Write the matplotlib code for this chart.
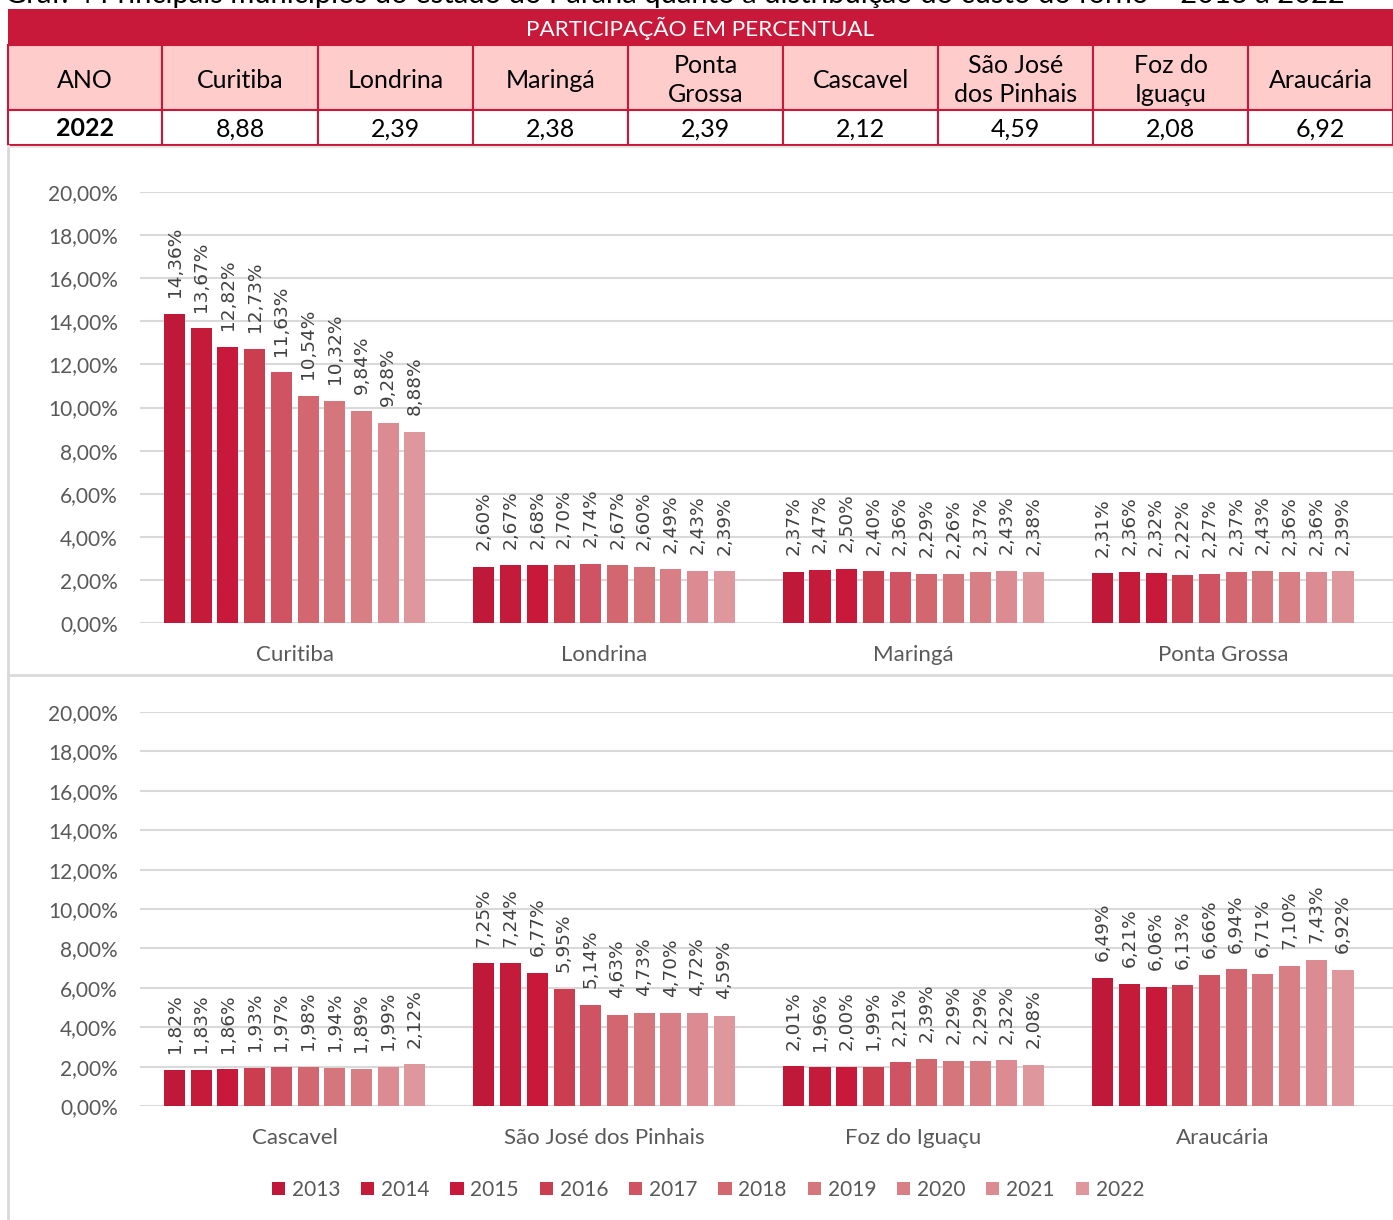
import matplotlib
matplotlib.use("Agg")
import matplotlib.pyplot as plt
import numpy as np
from matplotlib.patches import Rectangle

# ── data ────────────────────────────────────────────────────────────────────
years = ["2013", "2014", "2015", "2016", "2017", "2018", "2019", "2020", "2021", "2022"]

cities_top = ["Curitiba", "Londrina", "Maringá", "Ponta Grossa"]
cities_bottom = ["Cascavel", "São José dos Pinhais", "Foz do Iguaçu", "Araucária"]

curitiba = [14.36, 13.67, 12.82, 12.73, 11.63, 10.54, 10.32, 9.84, 9.28, 8.88]
londrina = [2.60, 2.67, 2.68, 2.70, 2.74, 2.67, 2.60, 2.49, 2.43, 2.39]
maringa = [2.37, 2.47, 2.50, 2.40, 2.36, 2.29, 2.26, 2.37, 2.43, 2.38]
ponta_grossa = [2.31, 2.36, 2.32, 2.22, 2.27, 2.37, 2.43, 2.36, 2.36, 2.39]
cascavel = [1.82, 1.83, 1.86, 1.93, 1.97, 1.98, 1.94, 1.89, 1.99, 2.12]
sao_jose = [7.25, 7.24, 6.77, 5.95, 5.14, 4.63, 4.73, 4.70, 4.72, 4.59]
foz = [2.01, 1.96, 2.00, 1.99, 2.21, 2.39, 2.29, 2.29, 2.32, 2.08]
araucaria = [6.49, 6.21, 6.06, 6.13, 6.66, 6.94, 6.71, 7.10, 7.43, 6.92]

table_headers = ["ANO", "Curitiba", "Londrina", "Maringá", "Ponta\nGrossa", "Cascavel",
                 "São José\ndos Pinhais", "Foz do\nIguaçu", "Araucária"]
table_row = ["2022", "8,88", "2,39", "2,38", "2,39", "2,12", "4,59", "2,08", "6,92"]

title = ("Gráf. 4 Principais municípios do estado do Paraná quanto à distribuição "
         "do custo do forno – 2013 a 2022")

# ── style ───────────────────────────────────────────────────────────────────
COLORS = ["#C01838", "#C41B3B", "#C8193A", "#CB3E4F", "#CF5362",
          "#D2676F", "#D5757C", "#D87F86", "#DB8B91", "#DE979C"]
CRIMSON = "#C8193A"
PINK = "#FFCCCC"
GRID = "#D9D9D9"
TXT = "#595959"
LBL = "#404040"
FONT = "Lato"

W, H = 1393, 1220
fig = plt.figure(figsize=(W / 100, H / 100), dpi=100)

# overlay axes in pixel coords for the table and frame lines
bg = fig.add_axes([0, 0, 1, 1])
bg.set_xlim(0, W)
bg.set_ylim(H, 0)
bg.axis("off")

# title row is cropped at the top edge in the source image
fig.text(5 / W, 1 - 3 / H, title, fontsize=21, family=FONT, color="#000000",
         va="baseline", ha="left")

# table
col_edges = [8, 162, 318, 473, 628, 783, 938, 1093, 1248, 1393]
bg.add_patch(Rectangle((8, 9), W - 8, 36, facecolor=CRIMSON, edgecolor="none"))
bg.text((8 + W) / 2, 28, "PARTICIPAÇÃO EM PERCENTUAL", color="white", fontsize=16.2,
        family=FONT, ha="center", va="center")
for i in range(len(table_headers)):
    x0, x1 = col_edges[i], col_edges[i + 1]
    bg.add_patch(Rectangle((x0, 45), x1 - x0, 65, facecolor=PINK, edgecolor=CRIMSON,
                           linewidth=1.5))
    bg.add_patch(Rectangle((x0, 110), x1 - x0, 35, facecolor="white", edgecolor=CRIMSON,
                           linewidth=1.5))
    bg.text((x0 + x1) / 2, 80, table_headers[i], fontsize=18, family=FONT, ha="center",
            va="center", linespacing=1.3, color="#000000")
    bg.text((x0 + x1) / 2, 129, table_row[i], fontsize=18, family=FONT, ha="center",
            va="center", color="#000000", fontweight="bold" if i == 0 else "normal")

# frame lines of the chart area
bg.plot([8, 8], [146, H], color=GRID, lw=2)
bg.plot([8, W], [675, 675], color=GRID, lw=2)
bg.plot([8, W], [147, 147], color="#E6E6E6", lw=1.5)


def bar_panel(rect_px, cities, series):
    left, top, right, bottom = rect_px
    ax = fig.add_axes([left / W, 1 - bottom / H, (right - left) / W, (bottom - top) / H])
    x = np.arange(len(cities))
    step = 0.0863
    width = 0.068
    offsets = (np.arange(len(years)) - (len(years) - 1) / 2) * step
    for j, yr in enumerate(years):
        vals = [s[j] for s in series]
        bars = ax.bar(x + offsets[j], vals, width, color=COLORS[j], label=yr, zorder=3)
        for b, v in zip(bars, vals):
            ax.annotate(f"{v:.2f}%".replace(".", ","),
                        xy=(b.get_x() + b.get_width() / 2, v),
                        xytext=(0, 12), textcoords="offset points",
                        rotation=90, ha="center", va="bottom", fontsize=13.3,
                        color=LBL, family="DejaVu Sans", annotation_clip=False)
    ax.set_ylim(0, 20)
    ax.set_xlim(-0.5, 3.55)
    ax.set_yticks(np.arange(0, 21, 2))
    ax.set_yticklabels([f"{v:.2f}%".replace(".", ",") for v in np.arange(0, 21, 2)])
    ax.set_xticks(x)
    ax.set_xticklabels(cities)
    ax.grid(axis="y", color=GRID, linewidth=1.5, zorder=0)
    ax.set_axisbelow(True)
    for sp in ax.spines.values():
        sp.set_visible(False)
    ax.tick_params(axis="y", length=0, pad=16, labelsize=15, labelcolor=TXT)
    ax.tick_params(axis="x", length=0, pad=16, labelsize=16, labelcolor=TXT)
    for t in ax.get_xticklabels() + ax.get_yticklabels():
        t.set_family(FONT)
    return ax


bar_panel((140, 192, W, 623), cities_top,
          [curitiba, londrina, maringa, ponta_grossa])
ax2 = bar_panel((140, 712, W, 1106), cities_bottom,
                [cascavel, sao_jose, foz, araucaria])

handles, labels = ax2.get_legend_handles_labels()
fig.legend(handles, labels, loc="center", bbox_to_anchor=(708 / W, 1 - 1190 / H),
           ncol=10, frameon=False, handlelength=0.63, handleheight=0.63,
           handletextpad=0.33, columnspacing=1.0,
           prop={"family": FONT, "size": 15}, labelcolor=TXT)

fig.savefig("out.png", dpi=100)
